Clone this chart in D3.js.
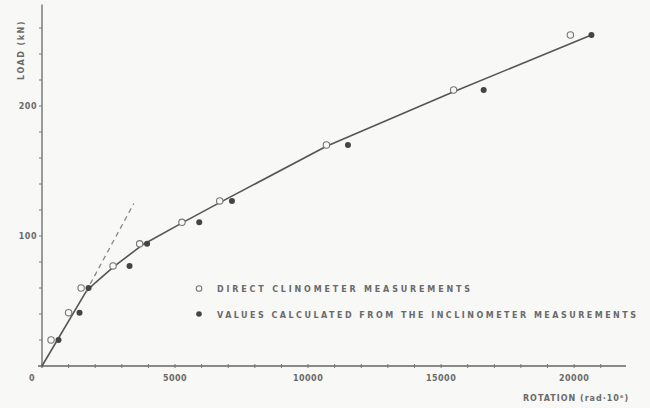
<!DOCTYPE html>
<html>
<head>
<meta charset="utf-8">
<script src="https://cdn.jsdelivr.net/npm/d3@7"></script>
<style>
  body { margin: 0; background: #f8f8f6; }
  svg { display: block; }
  text { font-family: "DejaVu Sans", sans-serif; fill: #6a6a6a; font-weight: bold; }
</style>
</head>
<body>
<svg id="chart" width="650" height="408"></svg>
<script>
// direct clinometer readings (open circles)
const directRot  = [340, 1000, 1470, 2670, 3670, 5260, 6680, 10690, 15470, 19860];
const directLoad = [20, 41, 60, 77, 94, 110.5, 127, 170, 212.3, 254.6];
// values from the inclinometer (filled circles)
const calcRot  = [620, 1410, 1750, 3290, 3950, 5910, 7140, 11500, 16600, 20650];
const calcLoad = [20, 41, 60, 77, 94, 110.5, 127, 170, 212.3, 254.6];
// drawn curve and the dashed initial tangent
const fitRot  = [0, 1650, 2000, 2700, 3800, 5300, 6800, 10690, 15470, 20650];
const fitLoad = [0, 57, 64, 76.5, 93.5, 110.5, 127, 169, 211, 254.6];
const dashRot  = [1650, 3450];
const dashLoad = [57, 125];

const xTickLabels = [0, 5000, 10000, 15000, 20000];
const yTickLabels = [100, 200];

const svg = d3.select("#chart");

const x = d3.scaleLinear().domain([0, 21950]).range([42, 626]);
const y = d3.scaleLinear().domain([0, 278]).range([366, 4.6]);

// axes
svg.append("line")
  .attr("x1", 38).attr("x2", 626).attr("y1", y(0)).attr("y2", y(0))
  .attr("stroke", "#666").attr("stroke-width", 1.3);
svg.append("line")
  .attr("x1", x(0)).attr("x2", x(0)).attr("y1", y(0) + 2).attr("y2", y(278))
  .attr("stroke", "#666").attr("stroke-width", 1.3);

// x minor ticks every 1000
svg.selectAll(".xt")
  .data(d3.range(1000, 21001, 1000))
  .enter().append("line")
  .attr("x1", d => x(d)).attr("x2", d => x(d))
  .attr("y1", y(0) - 2).attr("y2", y(0) + 2)
  .attr("stroke", "#777").attr("stroke-width", 1);

// y ticks every 20
svg.selectAll(".yt")
  .data(d3.range(20, 261, 20))
  .enter().append("line")
  .attr("x1", x(0) - 3).attr("x2", x(0))
  .attr("y1", d => y(d)).attr("y2", d => y(d))
  .attr("stroke", "#777").attr("stroke-width", 1);

svg.selectAll(".xl")
  .data(xTickLabels)
  .enter().append("text")
  .attr("x", d => d === 0 ? x(d) - 10 : x(d))
  .attr("y", 381)
  .attr("text-anchor", "middle")
  .style("font-size", "8px")
  .style("letter-spacing", "0.5px")
  .text(d => d);

svg.selectAll(".yl")
  .data(yTickLabels)
  .enter().append("text")
  .attr("x", 37)
  .attr("y", d => y(d) + 3)
  .attr("text-anchor", "end")
  .style("font-size", "8px")
  .style("letter-spacing", "0.5px")
  .text(d => d);

// axis titles
svg.append("text")
  .attr("transform", "translate(24,50) rotate(-90)")
  .attr("text-anchor", "middle")
  .style("font-size", "8px")
  .style("letter-spacing", "1.5px")
  .text("LOAD (kN)");

svg.append("text")
  .attr("x", 576).attr("y", 401)
  .attr("text-anchor", "middle")
  .style("font-size", "8px")
  .style("letter-spacing", "1px")
  .text("ROTATION (rad·10⁶)");

// curves
const line = d3.line().x(d => x(d[0])).y(d => y(d[1]));

svg.append("path")
  .attr("d", line(d3.zip(fitRot, fitLoad)))
  .attr("fill", "none").attr("stroke", "#555").attr("stroke-width", 1.6)
  .attr("stroke-linejoin", "round");

svg.append("path")
  .attr("d", line(d3.zip(dashRot, dashLoad)))
  .attr("fill", "none").attr("stroke", "#888").attr("stroke-width", 1.3)
  .attr("stroke-dasharray", "5,4");

// points
svg.selectAll(".open")
  .data(d3.zip(directRot, directLoad))
  .enter().append("circle")
  .attr("cx", d => x(d[0])).attr("cy", d => y(d[1])).attr("r", 3.2)
  .attr("fill", "#f8f8f6").attr("stroke", "#777").attr("stroke-width", 1.1);

svg.selectAll(".filled")
  .data(d3.zip(calcRot, calcLoad))
  .enter().append("circle")
  .attr("cx", d => x(d[0])).attr("cy", d => y(d[1])).attr("r", 3)
  .attr("fill", "#444");

// legend
const legend = svg.append("g");
legend.append("circle")
  .attr("cx", 199).attr("cy", 288.5).attr("r", 2.8)
  .attr("fill", "#f8f8f6").attr("stroke", "#777").attr("stroke-width", 1.1);
legend.append("circle")
  .attr("cx", 199).attr("cy", 314).attr("r", 2.8)
  .attr("fill", "#444");
legend.append("text")
  .attr("x", 217).attr("y", 292)
  .attr("textLength", 253).attr("lengthAdjust", "spacing")
  .style("font-size", "8px")
  .text("DIRECT CLINOMETER MEASUREMENTS");
legend.append("text")
  .attr("x", 217).attr("y", 318)
  .attr("textLength", 419).attr("lengthAdjust", "spacing")
  .style("font-size", "8px")
  .text("VALUES CALCULATED FROM THE INCLINOMETER MEASUREMENTS");
</script>
</body>
</html>
